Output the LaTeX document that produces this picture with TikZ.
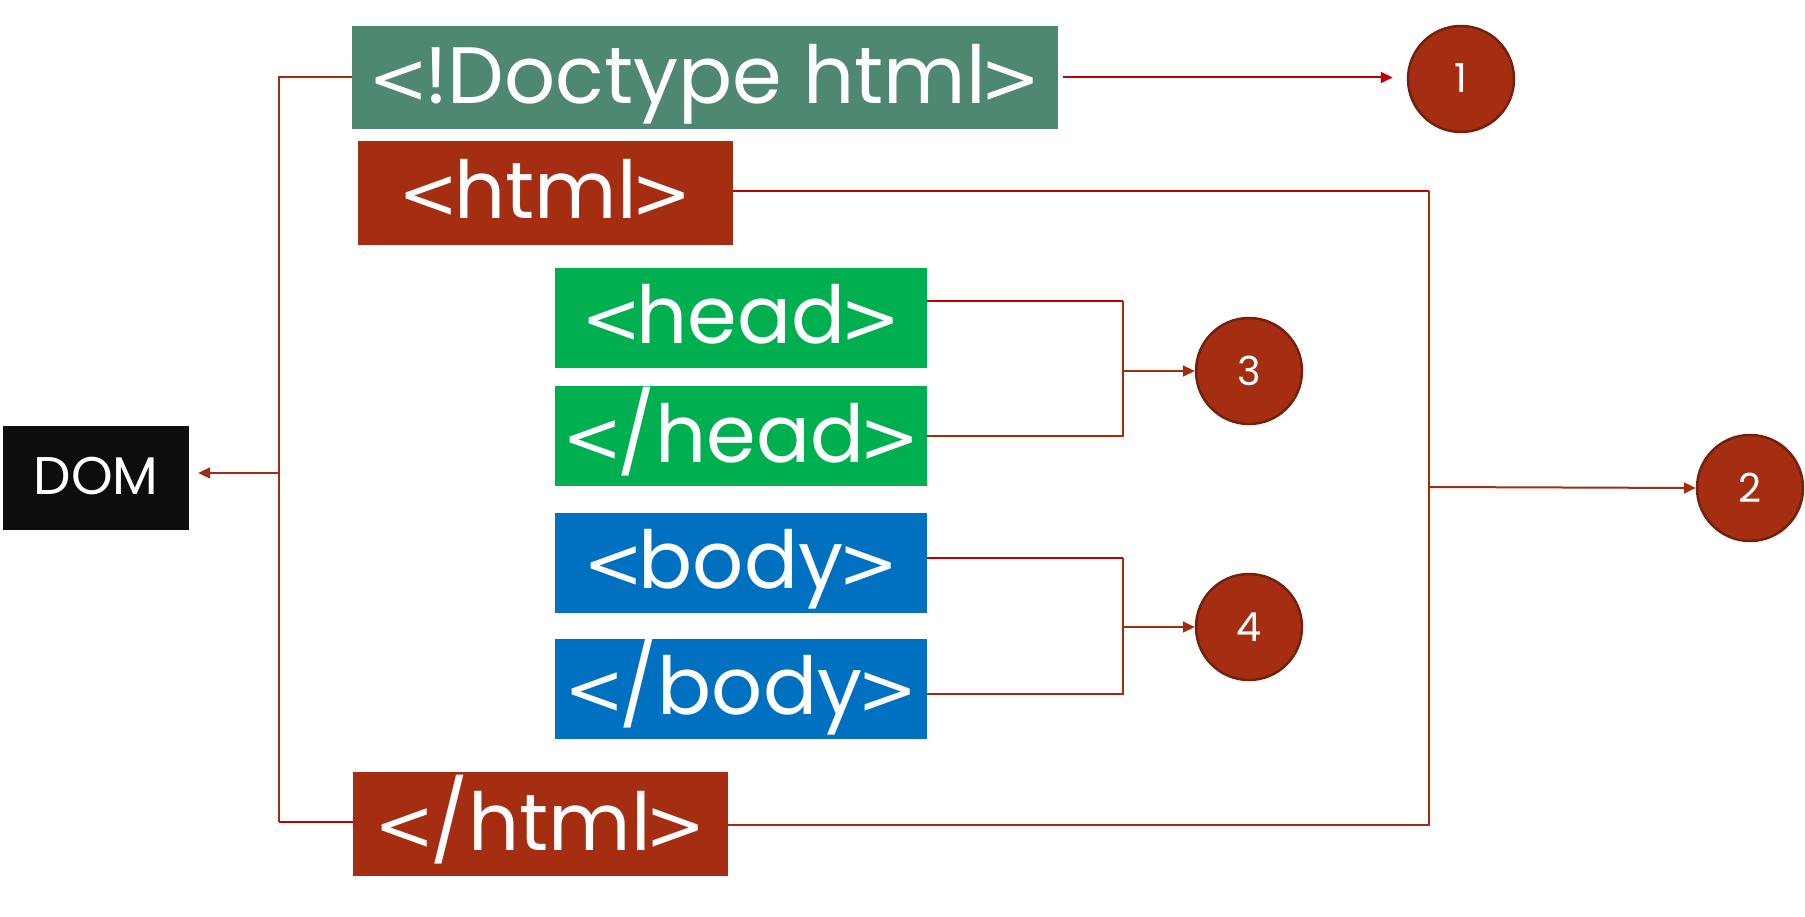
\documentclass[tikz,border=0pt]{standalone}
\usepackage{fontspec}
\setmainfont{Poppins}
\newfontfamily\brkfont{DejaVu Sans}
\newcommand\lt{\scalebox{0.9}[0.9]{\brkfont <}\kern-5pt}
\newcommand\gt{\kern-5pt\scalebox{0.9}[0.9]{\brkfont >}}
\usetikzlibrary{arrows.meta}
\definecolor{docgreen}{RGB}{78,136,112}
\definecolor{tagred}{RGB}{165,46,18}
\definecolor{headgreen}{RGB}{0,176,80}
\definecolor{bodyblue}{RGB}{0,112,192}
\definecolor{domblack}{RGB}{13,13,13}
\definecolor{linered}{RGB}{192,0,0}
\definecolor{linebrown}{RGB}{160,45,15}
\definecolor{circborder}{RGB}{115,32,12}
\begin{document}
\begin{tikzpicture}[x=1pt,y=-1pt,
  tag/.style={inner sep=0pt, text=white, anchor=center,
    font=\fontsize{80}{80}\selectfont, text height=60pt, text depth=8pt},
  wide/.style={tag, minimum width=706pt, minimum height=103pt},
  mid/.style={tag, minimum width=375pt, minimum height=104pt},
  small/.style={tag, minimum width=372pt, minimum height=100pt},
  num/.style={circle, fill=tagred, draw=circborder, line width=2.5pt,
    minimum size=106pt, inner sep=0pt, text=white,
    font=\fontsize{40}{40}\selectfont, text height=28pt, text depth=0pt},
  redline/.style={draw=linered, line width=2pt},
  brownline/.style={draw=linebrown, line width=2pt},
  tip/.style={-{Triangle[length=12pt,width=11pt]}},
]
\useasboundingbox (0,0) rectangle (1805,917);

% boxes
\node[wide, fill=docgreen] (doc) at (705,77.5) {\lt!Doctype html\gt};
\node[mid, fill=tagred] (html) at (545.5,193) {\lt html\gt};
\node[small, fill=headgreen] (head) at (741,318) {\lt head\gt};
\node[small, fill=headgreen] (chead) at (741,436) {\lt/head\gt};
\node[small, fill=bodyblue] (body) at (741,562.5) {\lt body\gt};
\node[small, fill=bodyblue] (cbody) at (741,688.5) {\lt/body\gt};
\node[mid, fill=tagred] (chtml) at (540.5,824) {\lt/html\gt};
\node[inner sep=0pt, fill=domblack, text=white, minimum width=186pt, minimum height=104pt,
  font=\fontsize{53}{53}\selectfont, text height=37pt, text depth=5pt] (dom) at (96,478) {DOM};

% circles
\node[num] (c1) at (1461,79) {1};
\node[num] (c2) at (1750,488) {2};
\node[num] (c3) at (1249,371) {3};
\node[num] (c4) at (1249,627) {4};

% junction coordinates
\coordinate (lvt) at (279,77);
\coordinate (lvb) at (279,822);
\coordinate (lva) at (279,473);
\coordinate (rvt) at (1429,191);
\coordinate (rvb) at (1429,825);
\coordinate (rva) at (1429,487);
\coordinate (ht) at (1123,301);
\coordinate (hb) at (1123,436);
\coordinate (ha) at (1123,371);
\coordinate (bt) at (1123,558);
\coordinate (bb) at (1123,694);
\coordinate (ba) at (1123,627);

% doctype -> 1
\draw[redline, tip, shorten <=5pt, shorten >=14pt] (doc.east) -- (doc.east -| c1.west);

% html / /html -> 2
\draw[redline] (html.east |- rvt) -- (rvt);
\draw[brownline] (rvt) -- (rvb) -- (chtml.east |- rvb);
\draw[brownline, tip] (rva) -- (c2.west);

% head -> 3
\draw[redline] (head.east |- ht) -- (ht);
\draw[brownline] (ht) -- (hb) -- (chead.east |- hb);
\draw[brownline, tip] (ha) -- (c3.west);

% body -> 4
\draw[redline] (body.east |- bt) -- (bt);
\draw[brownline] (bt) -- (bb) -- (cbody.east |- bb);
\draw[brownline, tip] (ba) -- (c4.west);

% left bracket -> DOM
\draw[brownline] (doc.west |- lvt) -- (lvt) -- (lvb);
\draw[redline] (lvb) -- (chtml.west |- lvb);
\draw[brownline, tip, shorten >=9pt] (lva) -- (lva -| dom.east);
\end{tikzpicture}
\end{document}
